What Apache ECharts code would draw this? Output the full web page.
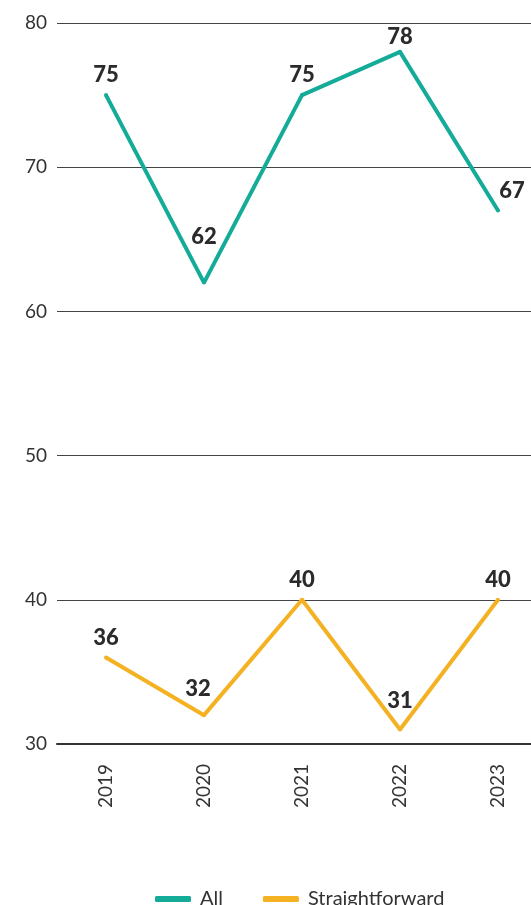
<!DOCTYPE html>
<html>
<head>
<meta charset="utf-8">
<script src="https://cdn.jsdelivr.net/npm/echarts@6/dist/echarts.min.js"></script>
<style>
  html, body { margin: 0; padding: 0; background: #fff; }
  #chart { width: 531px; height: 905px; }
</style>
</head>
<body>
<div id="chart"></div>
<script>
const years = ['2019', '2020', '2021', '2022', '2023'];
const allValues = [75, 62, 75, 78, 67];
const straightValues = [36, 32, 40, 31, 40];

const chart = echarts.init(document.getElementById('chart'));

// small nudges for labels that sit off-centre in the original
const labelFix = (vals, fixes) => vals.map((v, i) => fixes[i] ? { value: v, label: fixes[i] } : v);

const lineLabel = { show: true, position: 'top', distance: 7, fontSize: 22, fontWeight: 900, color: '#2b2b2b', fontFamily: 'Lato' };

chart.setOption({
    animation: false,
    textStyle: { fontFamily: 'Lato' },
    color: ['#14ab98', '#f4b223'],
    grid: { left: 57, width: 490, top: 23, bottom: 161, outerBoundsMode: 'none' },
    legend: {
        left: 150,
        top: 884,
        itemWidth: 36,
        itemHeight: 6,
        itemGap: 40,
        icon: 'roundRect',
        textStyle: { fontSize: 20, color: '#333', fontFamily: 'Lato', padding: [0, 0, 0, 4] },
        data: ['All', 'Straightforward']
    },
    xAxis: {
        type: 'category',
        data: years,
        boundaryGap: true,
        axisLine: { lineStyle: { color: '#333', width: 2 } },
        axisTick: { show: false },
        axisLabel: { rotate: 90, margin: 20, fontSize: 19, color: '#333' }
    },
    yAxis: {
        type: 'value',
        min: 30,
        max: 80,
        interval: 10,
        axisLine: { show: false },
        axisTick: { show: false },
        axisLabel: { margin: 10, fontSize: 19, color: '#333' },
        splitLine: { lineStyle: { color: '#444', width: 1 } }
    },
    series: [
        {
            name: 'All',
            type: 'line',
            data: labelFix(allValues, { 1: { offset: [0, -26] }, 3: { offset: [0, 5] }, 4: { offset: [14, 0] } }),
            symbol: 'circle',
            symbolSize: 4,
            showAllSymbol: true,
            lineStyle: { width: 4 },
            label: lineLabel
        },
        {
            name: 'Straightforward',
            type: 'line',
            data: labelFix(straightValues, { 1: { offset: [-6, -6] }, 3: { offset: [0, -9] } }),
            symbol: 'circle',
            symbolSize: 4,
            showAllSymbol: true,
            lineStyle: { width: 4 },
            label: lineLabel
        }
    ]
});
</script>
</body>
</html>
